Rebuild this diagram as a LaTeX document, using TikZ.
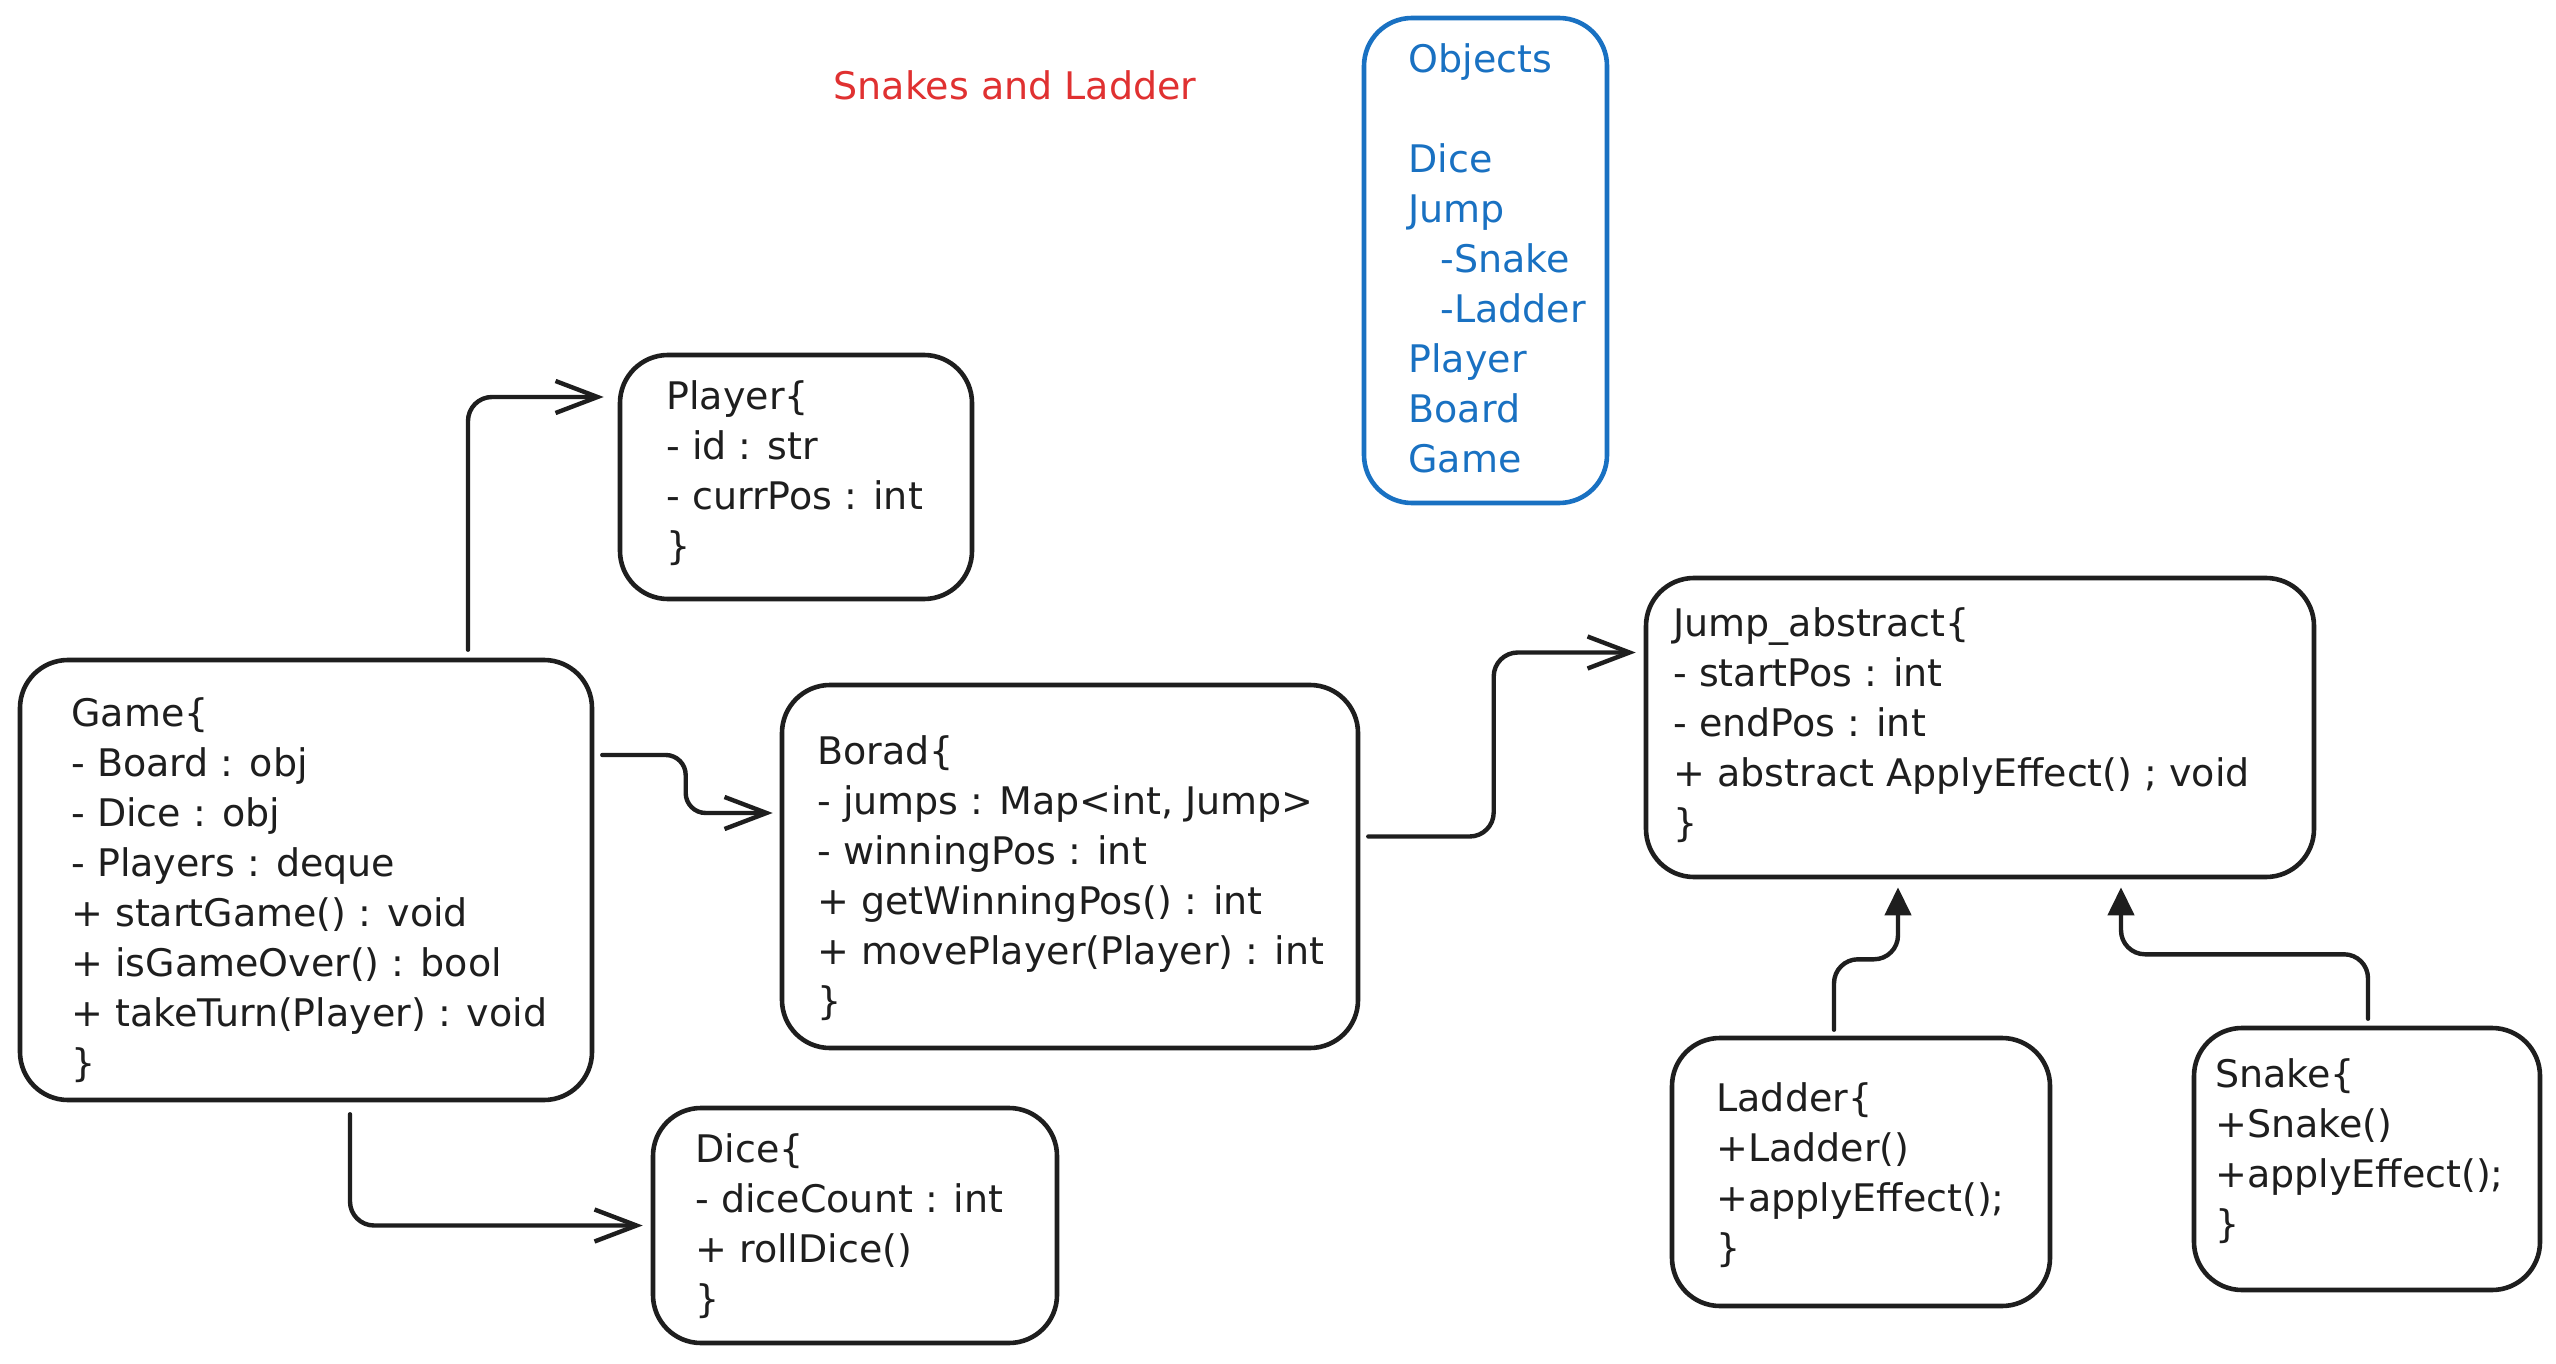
\documentclass[tikz,border=0pt]{standalone}
\usepackage{fontspec}
\setmainfont{DejaVu Sans}
\usetikzlibrary{arrows.meta,calc}
\definecolor{ink}{HTML}{1E1E1E}
\definecolor{exred}{HTML}{E03131}
\definecolor{exblue}{HTML}{1971C2}
\begin{document}
\begin{tikzpicture}[x=0.5pt,y=-0.5pt,
  box/.style={draw=ink, line width=2.3pt, rounded corners=24pt, inner sep=0pt},
  txt/.style={anchor=north west, inner sep=0pt, align=left, text=ink, font=\fontsize{19pt}{25pt}\selectfont},
  arr/.style={draw=ink, line width=2.2pt, line cap=round, rounded corners=12pt, -{Straight Barb[length=21pt,width=16pt]}},
  inh/.style={draw=ink, line width=2.2pt, line cap=round, rounded corners=12pt, -{Triangle[length=14pt,width=13pt]}}]
\fill[white] (0,0) rectangle (2556,1364);
\useasboundingbox (0,0) rectangle (2556,1364);

% title
\node[text=exred, font=\fontsize{19pt}{25pt}\selectfont, inner sep=0pt] (title) at (1015,85) {Snakes and Ladder};

% boxes
\node[box, minimum width=286pt, minimum height=220pt] (game) at (306,880) {};
\node[box, minimum width=176pt, minimum height=122pt] (player) at (796,477) {};
\node[box, minimum width=288pt, minimum height=181.5pt] (borad) at (1070,866.5) {};
\node[box, minimum width=202pt, minimum height=117.5pt] (dice) at (855,1225.5) {};
\node[box, minimum width=334pt, minimum height=149.5pt] (jump) at (1980,727.5) {};
\node[box, minimum width=189pt, minimum height=134pt] (ladder) at (1861,1172) {};
\node[box, minimum width=173pt, minimum height=131pt] (snake) at (2367,1159) {};
\node[box, draw=exblue, minimum width=121.5pt, minimum height=242.5pt] (objects) at (1485.5,260.5) {};

% texts
\node[txt] (gametxt) at (71,691) {\strut Game\{\\- Board : obj\\- Dice : obj\\- Players : deque\\+ startGame() : void\\+ isGameOver() : bool\\+ takeTurn(Player) : void\\\}};
\node[txt] (playertxt) at (666,374) {\strut Player\{\\- id : str\\- currPos : int\\\}};
\node[txt] (boradtxt) at (817,729) {\strut Borad\{\\- jumps : Map<int, Jump>\\- winningPos : int\\+ getWinningPos() : int\\+ movePlayer(Player) : int\\\}};
\node[txt] (dicetxt) at (695,1127) {\strut Dice\{\\- diceCount : int\\+ rollDice()\\\}};
\node[txt] (jumptxt) at (1673,601) {\strut Jump\_abstract\{\\- startPos : int\\- endPos : int\\+ abstract ApplyEffect() ; void\\\}};
\node[txt] (laddertxt) at (1716,1076) {\strut Ladder\{\\+Ladder()\\+applyEffect();\\\}};
\node[txt] (snaketxt) at (2215,1052) {\strut Snake\{\\+Snake()\\+applyEffect();\\\}};
\node[txt, text=exblue] (objtxt) at (1408,37) {\strut Objects\\\strut\\Dice\\Jump\\\hspace*{16pt}-Snake\\\hspace*{16pt}-Ladder\\Player\\Board\\Game};

% connectors
\draw[arr] ($(game.north)+(162,-8)$) |- ($(player.west)+(-14,-80)$);
\draw[arr, rounded corners=10pt] ($(game.east)+(8,-125)$) -| ($(borad.west)+(-94,-53.5)$) -- ($(borad.west)+(-7,-53.5)$);
\draw[arr] ($(game.south)+(44,12)$) |- ($(dice.west)+(-8,0)$);
\draw[arr] ($(borad.east)+(8,-30)$) -| ($(jump.west)+(-150,-75)$) -- ($(jump.west)+(-8,-75)$);
\draw[inh] ($(ladder.north)+(-27,-6)$) |- ($(jump.south)+(-82,80)$) -- ($(jump.south)+(-82,8)$);
\draw[inh] ($(snake.north)+(1,-7)$) |- ($(jump.south)+(141,75)$) -- ($(jump.south)+(141,8)$);
\end{tikzpicture}
\end{document}
